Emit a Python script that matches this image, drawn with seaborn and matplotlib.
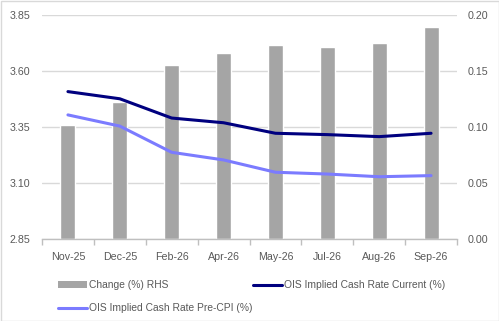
import numpy as np
import pandas as pd
import matplotlib
matplotlib.use("Agg")
import matplotlib.pyplot as plt
from matplotlib.patches import Patch, Rectangle
from matplotlib.lines import Line2D
import seaborn as sns

months = ["Nov-25", "Dec-25", "Feb-26", "Apr-26", "May-26", "Jul-26", "Aug-26", "Sep-26"]
change_rhs = [0.102, 0.122, 0.155, 0.166, 0.173, 0.171, 0.175, 0.189]
ois_current = [3.508, 3.476, 3.390, 3.369, 3.322, 3.316, 3.307, 3.322]
ois_pre_cpi = [3.404, 3.354, 3.237, 3.203, 3.148, 3.140, 3.128, 3.133]

left_ticks = [2.85, 3.10, 3.35, 3.60, 3.85]
right_ticks = [0.00, 0.05, 0.10, 0.15, 0.20]

df = pd.DataFrame({"month": months, "change": change_rhs,
                   "current": ois_current, "pre_cpi": ois_pre_cpi})

sns.set_theme(style="white")
plt.rcParams["font.family"] = ["Liberation Sans", "DejaVu Sans"]

TEXT = "#595959"
GRID = "#D9D9D9"
BAR = "#A5A5A5"
NAVY = "#00007F"
PERI = "#7B7BFF"

fig = plt.figure(figsize=(4.99, 3.21), dpi=100)
ax_bar = fig.add_axes([42 / 499, 1 - 239 / 321, 415 / 499, 224 / 321])
ax_line = ax_bar.twinx()

# bars on the right-hand scale, drawn underneath
sns.barplot(data=df, x="month", y="change", ax=ax_bar, color=BAR,
            width=0.29, saturation=1, zorder=2)
ax_bar.set_ylim(0, 0.20)
ax_bar.set_yticks(right_ticks)
ax_bar.yaxis.tick_right()
ax_bar.set_yticklabels([f"{v:.2f}" for v in right_ticks])

# horizontal gridlines behind the bars
ax_bar.set_axisbelow(True)
ax_bar.yaxis.grid(True, color=GRID, linewidth=1.0, linestyle="-")
ax_bar.xaxis.grid(False)

# OIS lines on the left-hand scale, drawn on top
sns.lineplot(data=df, x="month", y="current", ax=ax_line, color=NAVY,
             linewidth=2.2, sort=False)
sns.lineplot(data=df, x="month", y="pre_cpi", ax=ax_line, color=PERI,
             linewidth=2.2, sort=False)
ax_line.set_ylim(2.85, 3.85)
ax_line.set_yticks(left_ticks)
ax_line.yaxis.tick_left()
ax_line.set_yticklabels([f"{v:.2f}" for v in left_ticks])
ax_line.set_zorder(ax_bar.get_zorder() + 1)
ax_line.patch.set_visible(False)
ax_line.grid(False)

for a in (ax_bar, ax_line):
    a.set_xlabel("")
    a.set_ylabel("")
    for s in a.spines.values():
        s.set_visible(False)
    a.tick_params(axis="y", length=0, labelsize=7.7, colors=TEXT)

ax_bar.yaxis.set_label_position("right")
ax_line.yaxis.set_label_position("left")
ax_bar.tick_params(axis="y", pad=8)
ax_line.tick_params(axis="y", pad=8.5)

ax_bar.set_xlim(-0.5, len(months) - 0.5)
ax_bar.spines["bottom"].set_visible(True)
ax_bar.spines["bottom"].set_color("#BFBFBF")
ax_bar.spines["bottom"].set_linewidth(1)
ax_bar.spines["bottom"].set_zorder(3)
ax_bar.set_xticks(np.arange(-0.5, len(months), 1), minor=True)
ax_bar.tick_params(axis="x", which="major", length=0, pad=9,
                   labelsize=7.7, colors=TEXT)
ax_bar.tick_params(axis="x", which="minor", length=4, color="#BFBFBF",
                   bottom=True)
ax_line.tick_params(axis="x", length=0)

handles = [
    Patch(facecolor=BAR, edgecolor="none", label="Change (%) RHS"),
    Line2D([], [], color=PERI, linewidth=2.2, label="OIS Implied Cash Rate Pre-CPI (%)"),
    Line2D([], [], color=NAVY, linewidth=2.2, label="OIS Implied Cash Rate Current (%)"),
]
leg = fig.legend(handles=handles, ncol=2, loc="upper left",
                 bbox_to_anchor=(54 / 499, 1 - 276 / 321), frameon=False,
                 fontsize=7.4, labelcolor=TEXT, handlelength=2.8,
                 handletextpad=0.25, columnspacing=0.0, labelspacing=1.25,
                 borderaxespad=0, handleheight=0.6)

fig.patches.append(Rectangle((0.5 / 499, 0.5 / 321), 1 - 1 / 499, 1 - 1 / 321,
                             transform=fig.transFigure, fill=False,
                             edgecolor="#D9D9D9", linewidth=1))

fig.savefig("out.png", dpi=100)
